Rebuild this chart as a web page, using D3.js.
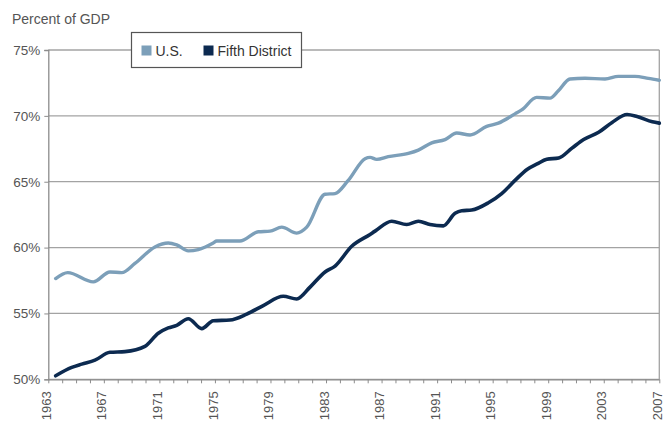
<!DOCTYPE html>
<html>
<head>
<meta charset="utf-8">
<script src="https://cdn.jsdelivr.net/npm/d3@7"></script>
<style>
  body { margin: 0; background: #fff; }
  svg { display: block; font-family: "Liberation Sans", Arial, sans-serif; }
  .tick-label { fill: #555; font-size: 13.5px; }
  .year-label { fill: #555; font-size: 13px; }
  .unit-label { fill: #555; font-size: 14px; }
  .legend-text { fill: #333; font-size: 14px; }
</style>
</head>
<body>
<div id="chart"></div>
<script>
// Share of GDP, U.S. vs Fifth District, 1963-2007
const usYear = [1963.53, 1964.4, 1966.24, 1967.44, 1968.29, 1969.24, 1970.68, 1971.64, 1972.25,
  1973.08, 1973.8, 1974.88, 1975.13, 1976.8, 1978.12, 1978.97, 1979.81, 1980.89, 1981.61,
  1982.93, 1983.65, 1984.6, 1985.81, 1986.17, 1986.65, 1987.48, 1988.93, 1989.65, 1990.61,
  1991.57, 1992.41, 1993.37, 1994.57, 1995.41, 1996.61, 1997.09, 1998.17, 1999.13, 1999.73,
  2000.57, 2001.65, 2003.09, 2004.05, 2005.25, 2006.21, 2007];
const usPct = [57.65, 58.1, 57.4, 58.15, 58.1, 58.8, 60.05, 60.35, 60.2,
  59.75, 59.85, 60.35, 60.5, 60.5, 61.2, 61.25, 61.55, 61.1, 61.55,
  64.05, 64.1, 65.1, 66.75, 66.85, 66.7, 66.9, 67.15, 67.4, 67.95,
  68.2, 68.7, 68.55, 69.2, 69.45, 70.15, 70.45, 71.4, 71.35, 71.9,
  72.8, 72.85, 72.8, 73.0, 73.0, 72.85, 72.7];

const fdYear = [1963.53, 1964.69, 1965.41, 1966.36, 1967.44, 1968.52, 1969.96, 1970.92, 1971.64,
  1972.25, 1973.08, 1974.05, 1974.88, 1976.08, 1977.29, 1978.48, 1979.92, 1980.89, 1981.85,
  1982.93, 1983.65, 1984.85, 1986.17, 1986.53, 1987.73, 1988.81, 1989.65, 1990.49, 1991.45,
  1992.29, 1992.77, 1993.49, 1994.69, 1995.65, 1996.61, 1997.5, 1998.2, 1998.9, 1999.75,
  2000.71, 2001.55, 2002.63, 2003.6, 2004.68, 2005.4, 2006.5, 2007];
const fdPct = [50.27, 50.9, 51.15, 51.45, 52.05, 52.1, 52.5, 53.5, 53.9,
  54.1, 54.6, 53.85, 54.45, 54.5, 54.95, 55.6, 56.3, 56.1, 57.0,
  58.15, 58.6, 60.1, 61.0, 61.25, 62.0, 61.75, 62.0, 61.75, 61.65,
  62.6, 62.8, 62.85, 63.4, 64.1, 65.1, 65.95, 66.35, 66.7, 66.8,
  67.55, 68.2, 68.75, 69.5, 70.1, 69.95, 69.55, 69.45];

const yTicks = [50, 55, 60, 65, 70, 75];
const yearTicks = d3.range(1963, 2008);
const yearLabels = d3.range(1963, 2008, 4);

const seriesNames = ["U.S.", "Fifth District"];
const seriesColors = ["#7c9fb9", "#0c2a50"];

const width = 665;
const height = 422;
const margin = { top: 50, right: 5.7, bottom: 42.7, left: 48.3 };

const svg = d3.select("#chart")
  .append("svg")
  .attr("width", width)
  .attr("height", height);

const x = d3.scaleLinear()
  .domain([1963, 2007])
  .range([margin.left, width - margin.right]);

const y = d3.scaleLinear()
  .domain([50, 75])
  .range([height - margin.bottom, margin.top]);

// horizontal gridlines
svg.append("g")
  .selectAll("line")
  .data(yTicks)
  .join("line")
  .attr("x1", x(1963))
  .attr("x2", x(2007))
  .attr("y1", d => y(d))
  .attr("y2", d => y(d))
  .attr("stroke", "#a3a3a3")
  .attr("stroke-width", 1.3);

// left axis with small outward ticks
const yAxis = svg.append("g")
  .attr("transform", `translate(${x(1963)},0)`)
  .call(d3.axisLeft(y).tickValues(yTicks).tickSize(4).tickPadding(4).tickFormat(d => `${d}%`));
yAxis.select(".domain").attr("stroke", "#8c8c8c").attr("stroke-width", 1.3);
yAxis.selectAll(".tick line").attr("stroke", "#8c8c8c");
yAxis.selectAll(".tick text").attr("class", "tick-label").attr("font-family", null).attr("font-size", null);

// right border
svg.append("line")
  .attr("x1", x(2007))
  .attr("x2", x(2007))
  .attr("y1", y(50))
  .attr("y2", y(75))
  .attr("stroke", "#a3a3a3")
  .attr("stroke-width", 1.3);

// bottom axis: a tick every year, labels every four years
const xAxis = svg.append("g")
  .attr("transform", `translate(0,${y(50)})`)
  .call(d3.axisBottom(x).tickValues(yearTicks).tickSize(4).tickSizeOuter(0).tickFormat(""));
xAxis.select(".domain").attr("stroke", "#8c8c8c").attr("stroke-width", 1.3);
xAxis.selectAll(".tick line").attr("stroke", "#8c8c8c");

svg.append("g")
  .selectAll("text")
  .data(yearLabels)
  .join("text")
  .attr("class", "year-label")
  .attr("transform", d => `translate(${x(d)},${y(50) + 12}) rotate(-90)`)
  .attr("text-anchor", "end")
  .attr("dy", "0.2em")
  .text(d => d);

svg.append("text")
  .attr("class", "unit-label")
  .attr("x", 12)
  .attr("y", 24)
  .text("Percent of GDP");

const line = d3.line()
  .x(d => x(d[0]))
  .y(d => y(d[1]))
  .curve(d3.curveMonotoneX);

const series = [
  d3.zip(usYear, usPct),
  d3.zip(fdYear, fdPct)
];

svg.append("g")
  .selectAll("path")
  .data(series)
  .join("path")
  .attr("d", line)
  .attr("fill", "none")
  .attr("stroke", (d, i) => seriesColors[i])
  .attr("stroke-width", (d, i) => i === 0 ? 3.4 : 3.6)
  .attr("stroke-linejoin", "round")
  .attr("stroke-linecap", "round");

// legend box sits on top of the 75% gridline
const legend = svg.append("g").attr("transform", "translate(131.5,32.5)");
legend.append("rect")
  .attr("width", 170)
  .attr("height", 35)
  .attr("fill", "#fff")
  .attr("stroke", "#555")
  .attr("stroke-width", 1.2);

const legendX = [10, 72];
legend.selectAll(".swatch")
  .data(seriesNames)
  .join("rect")
  .attr("class", "swatch")
  .attr("x", (d, i) => legendX[i])
  .attr("y", 13)
  .attr("width", 10)
  .attr("height", 10)
  .attr("fill", (d, i) => seriesColors[i]);

legend.selectAll(".legend-text")
  .data(seriesNames)
  .join("text")
  .attr("class", "legend-text")
  .attr("x", (d, i) => legendX[i] + 14)
  .attr("y", 23)
  .text(d => d);
</script>
</body>
</html>
